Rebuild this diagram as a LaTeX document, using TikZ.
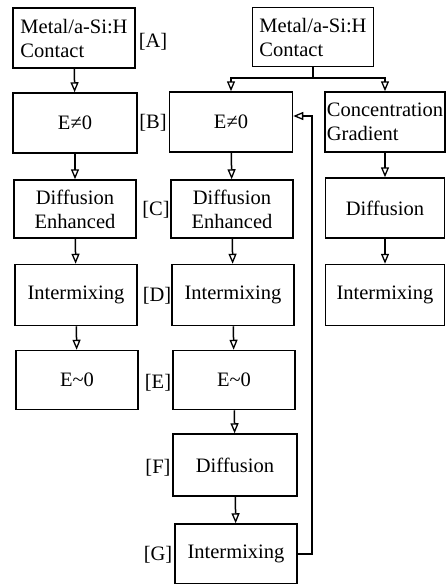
\documentclass[tikz,border=0pt]{standalone}
\usepackage{fontspec}
\setmainfont{Liberation Serif}
\usetikzlibrary{arrows.meta}

\begin{document}
\begin{tikzpicture}[x=1pt,y=-1pt,line width=1.5pt,
    font=\fontsize{20.5}{24}\selectfont,
    box/.style={draw,align=center,inner sep=2pt,minimum width=122pt,minimum height=60pt},
    arr/.style={-{Triangle[open,length=10pt,width=8pt,line width=1.3pt]}},
    tag/.style={inner sep=0pt}]
  \useasboundingbox (0,0) rectangle (446,584);
  % left column
  \node[box,align=left] (A) at (74,38) {Metal/a-Si:H\\Contact};
  \node[box,minimum width=124pt] (B) at (75,123) {E≠0};
  \node[box,minimum height=58pt] (C) at (75,209) {Diffusion\\Enhanced};
  \node[box,minimum height=61pt] (D) at (76,295) {Intermixing};
  \node[box,minimum height=59pt] (E) at (77,380) {E\textasciitilde0};
  % middle column
  \node[box,align=left,minimum width=121pt,minimum height=59pt] (M) at (313,37) {Metal/a-Si:H\\Contact};
  \node[box,minimum width=123pt] (B2) at (231,122) {E≠0};
  \node[box,minimum height=58pt] (C2) at (232,209) {Diffusion\\Enhanced};
  \node[box,minimum height=61pt] (D2) at (233,295) {Intermixing};
  \node[box,minimum height=59pt] (E2) at (234,380) {E\textasciitilde0};
  \node[box,minimum width=124pt,minimum height=62pt] (F) at (235,465) {Diffusion};
  \node[box] (G) at (236,554) {Intermixing};
  % right column
  \node[box,align=left,minimum width=119pt] (R1) at (385,122) {Concentration\\Gradient};
  \node[box,minimum width=119pt] (R2) at (385,208) {Diffusion};
  \node[box,minimum width=119pt,minimum height=61pt] (R3) at (385,295) {Intermixing};
  % step labels
  \node[tag] (tA) at (153,42) {[A]};
  \node[tag] (tB) at (153,123) {[B]};
  \node[tag] (tC) at (156,210) {[C]};
  \node[tag] (tD) at (157,296) {[D]};
  \node[tag] (tE) at (158,383) {[E]};
  \node[tag] (tF) at (158,468) {[F]};
  \node[tag] (tG) at (158,555) {[G]};
  % arrows
  \draw[arr] (A) -- (B);
  \draw[arr] (B) -- (C);
  \draw[arr] (C) -- (D);
  \draw[arr] (D) -- (E);
  \coordinate (split) at (313,78);
  \draw (M) -- (split);
  \draw[arr] (split) -| (B2.north);
  \draw[arr] (split) -| (R1.north);
  \draw[arr] (B2) -- (C2);
  \draw[arr] (C2) -- (D2);
  \draw[arr] (D2) -- (E2);
  \draw[arr] (E2) -- (F);
  \draw[arr] (F) -- (G);
  \draw[arr] (R1) -- (R2);
  \draw[arr] (R2) -- (R3);
  \coordinate (back) at (312,116);
  \draw[arr] (G.east) -| (back) -- (B2.east |- back);
\end{tikzpicture}
\end{document}
